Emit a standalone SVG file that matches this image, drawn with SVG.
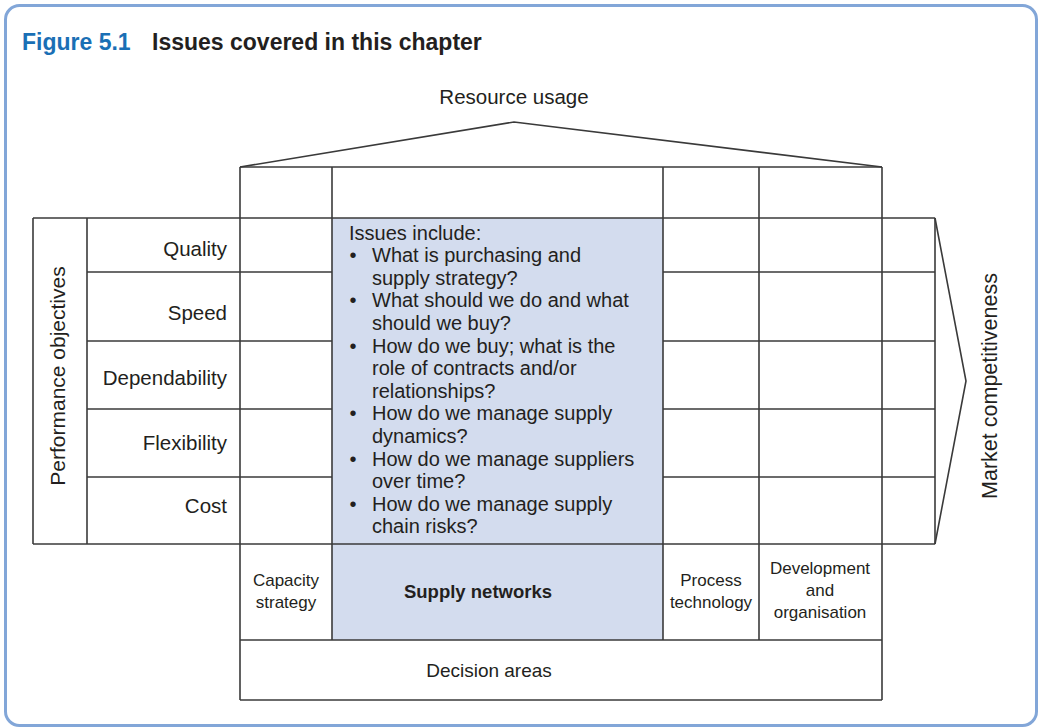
<svg xmlns="http://www.w3.org/2000/svg" width="1042" height="727" viewBox="0 0 1042 727">
<style>
.ln{stroke:#3a3a3a;stroke-width:1.6;fill:none}
.t{font-family:"Liberation Sans",Arial,sans-serif;fill:#231f20}
.lab{font-size:20.5px}
.ctr{font-size:20px}
.sm{font-size:17px}
</style>
<rect x="0" y="0" width="1042" height="727" fill="#ffffff"/>
<rect id="frame" x="5.5" y="5.5" width="1031" height="720" rx="14" fill="#ffffff" stroke="#82a6d8" stroke-width="3"/>
<g id="title">
<text x="22" y="50" font-family="Liberation Sans,Arial,sans-serif" font-weight="bold" font-size="23" fill="#1a6fb5">Figure 5.1</text>
<text x="152" y="50" font-family="Liberation Sans,Arial,sans-serif" font-weight="bold" font-size="23" fill="#231f20">Issues covered in this chapter</text>
</g>
<g id="shaded">
<rect x="332" y="218" width="331" height="422" fill="#d3dcee"/>
</g>
<g id="connectors">
<polyline class="ln" points="240,167 514,122 882,167"/>
<polyline class="ln" points="935,218 966,381 935,544"/>
<line class="ln" x1="240" y1="167" x2="882" y2="167"/>
<line class="ln" x1="33" y1="218" x2="935" y2="218"/>
<line class="ln" x1="87" y1="272" x2="332" y2="272"/>
<line class="ln" x1="87" y1="341" x2="332" y2="341"/>
<line class="ln" x1="87" y1="409" x2="332" y2="409"/>
<line class="ln" x1="87" y1="477" x2="332" y2="477"/>
<line class="ln" x1="663" y1="272" x2="935" y2="272"/>
<line class="ln" x1="663" y1="341" x2="935" y2="341"/>
<line class="ln" x1="663" y1="409" x2="935" y2="409"/>
<line class="ln" x1="663" y1="477" x2="935" y2="477"/>
<line class="ln" x1="33" y1="544" x2="935" y2="544"/>
<line class="ln" x1="240" y1="640" x2="882" y2="640"/>
<line class="ln" x1="240" y1="700" x2="882" y2="700"/>
<line class="ln" x1="33" y1="218" x2="33" y2="544"/>
<line class="ln" x1="87" y1="218" x2="87" y2="544"/>
<line class="ln" x1="240" y1="167" x2="240" y2="700"/>
<line class="ln" x1="332" y1="167" x2="332" y2="640"/>
<line class="ln" x1="663" y1="167" x2="663" y2="640"/>
<line class="ln" x1="759" y1="167" x2="759" y2="640"/>
<line class="ln" x1="882" y1="167" x2="882" y2="700"/>
<line class="ln" x1="935" y1="218" x2="935" y2="544"/>
</g>
<g id="resource-usage"><text class="t lab" x="514" y="104" text-anchor="middle">Resource usage</text></g>
<g id="performance-objectives"><text class="t" font-size="21" transform="translate(65,376) rotate(-90)" text-anchor="middle">Performance objectives</text></g>
<g id="market-competitiveness"><text class="t" font-size="21.5" transform="translate(997,386) rotate(-90)" text-anchor="middle">Market competitiveness</text></g>
<g id="quality"><text class="t lab" x="227" y="256" text-anchor="end">Quality</text></g>
<g id="speed"><text class="t lab" x="227" y="320" text-anchor="end">Speed</text></g>
<g id="dependability"><text class="t lab" x="227" y="385" text-anchor="end">Dependability</text></g>
<g id="flexibility"><text class="t lab" x="227" y="450" text-anchor="end">Flexibility</text></g>
<g id="cost"><text class="t lab" x="227" y="513" text-anchor="end">Cost</text></g>
<g id="issues" class="t ctr">
<text x="349" y="239.5">Issues include:</text>
<text x="353" y="262" text-anchor="middle">•</text><text x="372" y="262">What is purchasing and</text>
<text x="372" y="284.7">supply strategy?</text>
<text x="353" y="307.3" text-anchor="middle">•</text><text x="372" y="307.3">What should we do and what</text>
<text x="372" y="329.9">should we buy?</text>
<text x="353" y="352.5" text-anchor="middle">•</text><text x="372" y="352.5">How do we buy; what is the</text>
<text x="372" y="375.1">role of contracts and/or</text>
<text x="372" y="397.7">relationships?</text>
<text x="353" y="420.3" text-anchor="middle">•</text><text x="372" y="420.3">How do we manage supply</text>
<text x="372" y="442.9">dynamics?</text>
<text x="353" y="465.5" text-anchor="middle">•</text><text x="372" y="465.5">How do we manage suppliers</text>
<text x="372" y="488.1">over time?</text>
<text x="353" y="510.7" text-anchor="middle">•</text><text x="372" y="510.7">How do we manage supply</text>
<text x="372" y="533.3">chain risks?</text>
</g>
<g id="capacity-strategy" class="t sm" text-anchor="middle">
<text x="286" y="586">Capacity</text>
<text x="286" y="608">strategy</text>
</g>
<g id="supply-networks"><text class="t" font-size="18.5" font-weight="bold" x="478" y="598" text-anchor="middle">Supply networks</text></g>
<g id="process-technology" class="t sm" text-anchor="middle">
<text x="711" y="586">Process</text>
<text x="711" y="608">technology</text>
</g>
<g id="development-organisation" class="t sm" text-anchor="middle">
<text x="820" y="574">Development</text>
<text x="820" y="596">and</text>
<text x="820" y="618">organisation</text>
</g>
<g id="decision-areas"><text class="t" font-size="19" x="489" y="677" text-anchor="middle">Decision areas</text></g>
</svg>
